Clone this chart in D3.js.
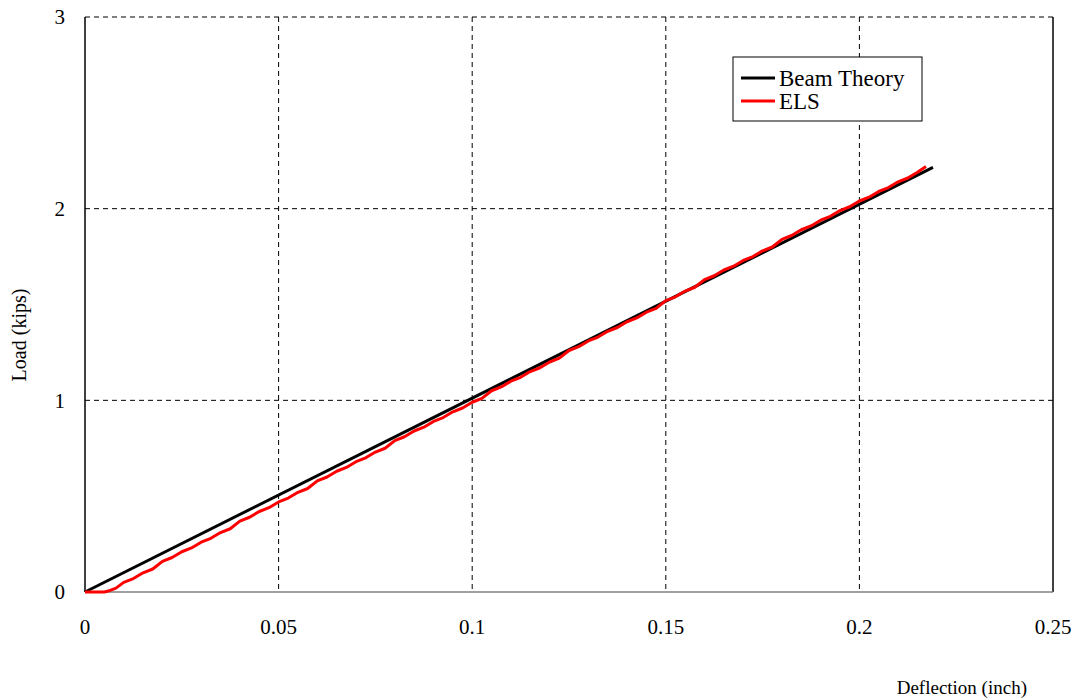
<!DOCTYPE html>
<html>
<head>
<meta charset="utf-8">
<script src="https://cdn.jsdelivr.net/npm/d3@7"></script>
<style>
  body { margin: 0; background: #fff; }
  svg { display: block; font-family: "Liberation Serif", "Times New Roman", serif; }
</style>
</head>
<body>
<div id="chart"></div>
<script>
const xTicks = [0, 0.05, 0.1, 0.15, 0.2, 0.25];
const yTicks = [0, 1, 2, 3];

// Beam Theory (straight line)
const beamDefl = [0, 0.219];
const beamLoad = [0, 2.215];

// ELS test record
const elsDefl = [0, 0.005, 0.006, 0.008, 0.010, 0.0125, 0.015, 0.0175, 0.020, 0.0225,
  0.025, 0.0275, 0.030, 0.0325, 0.035, 0.0375, 0.040, 0.0425, 0.045, 0.0475,
  0.050, 0.0525, 0.055, 0.0575, 0.060, 0.0625, 0.065, 0.0675, 0.070, 0.0725,
  0.075, 0.0775, 0.080, 0.0825, 0.085, 0.0875, 0.090, 0.0925, 0.095, 0.0975,
  0.100, 0.1025, 0.105, 0.1075, 0.110, 0.1125, 0.115, 0.1175, 0.120, 0.1225,
  0.125, 0.1275, 0.130, 0.1325, 0.135, 0.1375, 0.140, 0.1425, 0.145, 0.1475,
  0.150, 0.1525, 0.155, 0.1575, 0.160, 0.1625, 0.165, 0.1675, 0.170, 0.1725,
  0.175, 0.1775, 0.180, 0.1825, 0.185, 0.1875, 0.190, 0.1925, 0.195, 0.1975,
  0.200, 0.2025, 0.205, 0.2075, 0.210, 0.2125, 0.215, 0.2172];
const elsLoad = [0, 0, 0.005, 0.02, 0.05, 0.07, 0.10, 0.12, 0.16, 0.18,
  0.21, 0.23, 0.26, 0.28, 0.31, 0.33, 0.37, 0.39, 0.42, 0.44,
  0.47, 0.49, 0.52, 0.54, 0.58, 0.60, 0.63, 0.65, 0.68, 0.70,
  0.73, 0.75, 0.79, 0.81, 0.84, 0.86, 0.89, 0.91, 0.94, 0.96,
  0.99, 1.01, 1.05, 1.07, 1.10, 1.12, 1.15, 1.17, 1.20, 1.22,
  1.26, 1.28, 1.31, 1.33, 1.36, 1.38, 1.41, 1.43, 1.46, 1.48,
  1.52, 1.54, 1.57, 1.59, 1.63, 1.65, 1.68, 1.70, 1.73, 1.75,
  1.78, 1.80, 1.84, 1.86, 1.89, 1.91, 1.94, 1.96, 1.99, 2.01,
  2.04, 2.06, 2.09, 2.11, 2.14, 2.16, 2.19, 2.22];

const seriesNames = ["Beam Theory", "ELS"];
const seriesColors = ["#000000", "#ff0000"];

const width = 1077, height = 700;
const margin = {top: 17, right: 24, bottom: 108, left: 85};
const fontSize = 21;

const svg = d3.select("#chart").append("svg")
    .attr("width", width)
    .attr("height", height);

const x = d3.scaleLinear().domain([0, 0.25]).range([margin.left, width - margin.right]);
const y = d3.scaleLinear().domain([0, 3]).range([height - margin.bottom, margin.top]);

// gridlines
svg.append("g")
    .selectAll("line.vgrid")
    .data(xTicks.slice(1, -1))
    .join("line")
    .attr("x1", d => x(d)).attr("x2", d => x(d))
    .attr("y1", y(3)).attr("y2", y(0))
    .attr("stroke", "#000").attr("stroke-width", 1)
    .attr("stroke-dasharray", "5,4");

svg.append("g")
    .selectAll("line.hgrid")
    .data(yTicks.slice(1))
    .join("line")
    .attr("x1", x(0)).attr("x2", x(0.25))
    .attr("y1", d => y(d)).attr("y2", d => y(d))
    .attr("stroke", "#000").attr("stroke-width", 1)
    .attr("stroke-dasharray", "5,4");

// frame lines
svg.append("line")
    .attr("x1", x(0.25)).attr("x2", x(0.25))
    .attr("y1", y(3)).attr("y2", y(0))
    .attr("stroke", "#000").attr("stroke-width", 1.5);
svg.append("line")
    .attr("x1", x(0)).attr("x2", x(0.25))
    .attr("y1", y(0)).attr("y2", y(0))
    .attr("stroke", "#808080").attr("stroke-width", 1.5);
svg.append("line")
    .attr("x1", x(0)).attr("x2", x(0))
    .attr("y1", y(3)).attr("y2", y(0))
    .attr("stroke", "#000").attr("stroke-width", 1.5);

// tick labels
svg.append("g")
    .selectAll("text")
    .data(xTicks)
    .join("text")
    .attr("x", d => x(d))
    .attr("y", y(0) + 42)
    .attr("text-anchor", "middle")
    .attr("font-size", fontSize)
    .text(d => d);

svg.append("g")
    .selectAll("text")
    .data(yTicks)
    .join("text")
    .attr("x", x(0) - 20)
    .attr("y", d => y(d))
    .attr("dy", "0.35em")
    .attr("text-anchor", "end")
    .attr("font-size", fontSize)
    .text(d => d);

// axis titles
svg.append("text")
    .attr("x", 1027)
    .attr("y", 694)
    .attr("text-anchor", "end")
    .attr("font-size", 19)
    .text("Deflection (inch)");

svg.append("text")
    .attr("transform", `translate(26, 335) rotate(-90)`)
    .attr("text-anchor", "middle")
    .attr("font-size", 20)
    .text("Load (kips)");

// series
const line = d3.line().x(d => x(d[0])).y(d => y(d[1]));
const beamData = d3.zip(beamDefl, beamLoad);
const elsData = d3.zip(elsDefl, elsLoad);

svg.append("path")
    .datum(beamData)
    .attr("d", line)
    .attr("fill", "none")
    .attr("stroke", seriesColors[0])
    .attr("stroke-width", 3);

svg.append("path")
    .datum(elsData)
    .attr("d", line)
    .attr("fill", "none")
    .attr("stroke", seriesColors[1])
    .attr("stroke-width", 3)
    .attr("stroke-linejoin", "round");

// legend
const legend = svg.append("g").attr("transform", "translate(733, 57)");
legend.append("rect")
    .attr("width", 189).attr("height", 64)
    .attr("fill", "#fff")
    .attr("stroke", "#000").attr("stroke-width", 1);
seriesNames.forEach((name, i) => {
    const ly = 21 + i * 23;
    legend.append("line")
        .attr("x1", 8).attr("x2", 42)
        .attr("y1", ly).attr("y2", ly)
        .attr("stroke", seriesColors[i]).attr("stroke-width", 3);
    legend.append("text")
        .attr("x", 46).attr("y", ly)
        .attr("dy", "0.35em")
        .attr("font-size", 23)
        .text(name);
});
</script>
</body>
</html>
